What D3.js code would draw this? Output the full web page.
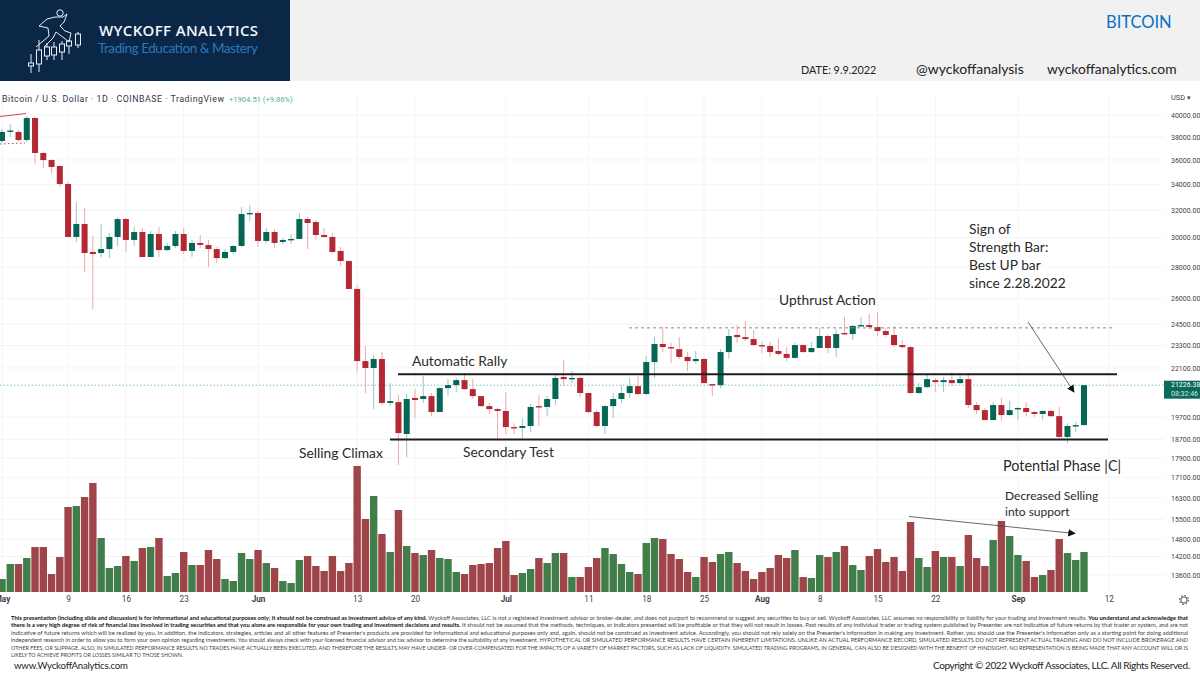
<!DOCTYPE html>
<html>
<head>
  <meta charset="utf-8">
  <script src="https://d3js.org/d3.v7.min.js"></script>
  <style>
    html, body { margin: 0; padding: 0; background: #fff; }
    svg { display: block; }
    text { font-family: Lato, sans-serif; }
    .tv text, text.tv { font-family: Roboto, sans-serif; }
    .note { fill: #2a2a2a; }
  </style>
</head>
<body>
<script>
// daily BTC/USD candles, 1 May - 9 Sep 2022
var firstDay = Date.UTC(2022, 4, 1);

var opens = [37630,38480,38440,37720,39720,36590,35990,35490,34020,30050,30980,29010,28940,29210,30050,31340,29840,30400,28670,30260,29140,29420,30260,29080,29630,29490,29210,28600,29010,29420,31710,
  31790,29770,30400,29700,29840,29910,31340,31120,30190,30050,29080,28400,26600,22460,22100,22570,20360,20400,18930,20600,20550,20690,19930,21080,21230,21480,21030,20690,20210,20070,
  19980,19240,19200,19290,20210,20170,20550,21640,21530,21590,20840,19930,19290,20210,20550,20840,21180,20790,22410,23380,23210,23100,22680,22460,22570,21280,21230,22940,23880,23760,23650,
  23320,23270,23000,22840,22630,23320,22940,23160,23820,23160,23990,23930,24390,24440,24330,24100,23880,23320,23210,20840,21130,21480,21380,21480,21330,21530,20260,20020,19560,20260,19790,
  20070,20120,19930,19840,19980,19740,18800,19290,19330];

var highs = [38710,39165,38620,39910,39810,36670,36080,35490,34180,32620,32160,30120,30980,30330,31490,31420,30760,30690,30470,30760,29630,30470,30690,29840,30190,29840,29350,29210,29490,32240,32390,
  31940,30690,30620,29980,30260,31790,31490,31270,30690,30330,29350,28470,26850,23270,22780,22940,21330,20740,20790,21030,21690,20840,21130,21530,21590,21840,21530,20690,20360,20120,
  20890,19420,19650,20310,20740,20690,21790,22520,21940,21640,20840,20020,20260,20840,21230,21590,21690,22730,23760,24330,23430,23760,22940,23000,22630,21310,23100,24210,24440,24670,24160,
  23490,23490,23650,23210,23430,23380,23490,24270,23930,24210,24910,24440,24910,25080,25200,24270,24390,23600,23270,21330,21740,21590,21640,21890,21740,21840,20400,20120,20400,20600,20450,
  20170,20400,19980,20020,20020,20170,19420,19470,21240];

var lows = [37460,37990,37550,37550,35660,35320,34830,33790,30050,29700,27680,25380,28670,28600,29420,29010,29420,28670,28670,28670,29080,29280,28870,28670,29280,28000,28270,28530,28870,29350,31200,
  29350,29630,29280,29560,29560,29910,29210,29840,29980,28940,28070,26600,21890,20840,20070,20260,20210,17600,17930,19650,20360,19740,19930,20690,20890,20990,20550,20170,19840,18620,
  18930,18930,18750,19020,19290,19740,20260,21180,21330,20640,19880,19240,18930,19650,20360,20600,20740,20740,21590,22940,22360,22570,21940,22310,21330,20690,21080,22570,23430,23540,23270,
  22890,22680,22730,22460,22570,22910,22890,23160,22890,22680,23880,23600,24330,24210,23820,23760,23210,23160,20790,20790,21080,20890,20890,21180,21300,20120,19840,19560,19540,19510,19770,
  19560,19740,19700,19560,19700,18750,18530,19020,19310];

var closes = [38440,38570,37720,39720,36590,35990,35410,34020,30050,30980,28940,28870,29210,30050,31340,29840,30400,28670,30260,29140,29420,30260,29080,29630,29490,29210,28600,29010,29420,31710,31790,
  29770,30400,29630,29840,29910,31340,31050,30190,30050,29010,28400,26600,22460,22100,22570,20360,20450,18970,20550,20500,20690,19930,21080,21230,21480,21030,20690,20210,20070,19980,
  19240,19200,19290,20170,20170,20550,21590,21530,21590,20840,19930,19290,20210,20550,20840,21180,20790,22410,23380,23210,23160,22680,22460,22570,21330,21230,22940,23820,23760,23650,23320,
  23270,22940,22840,22630,23320,22940,23160,23820,23160,23930,23930,24390,24440,24330,24100,23880,23320,23210,20840,21130,21530,21380,21480,21330,21530,20260,20020,19560,20260,19790,20020,
  20120,19930,19840,19980,19740,18800,19290,19330,21226.38];

// volume pane has no scale in the picture, so these are relative bar sizes
var volumes = [13,28,28,34,45,45,18,35,85,86,95,109,54,24,26,36,31,44,45,54,16,19,40,27,27,42,33,13,11,39,33,
  42,29,24,11,9,32,36,26,21,36,21,29,126,73,96,58,40,82,46,39,37,42,34,33,20,18,27,28,29,44,
  51,17,19,23,34,29,39,39,15,15,25,34,44,38,28,20,18,49,54,53,38,33,20,15,35,30,38,40,29,21,13,
  20,24,37,34,42,15,14,37,35,40,46,27,22,36,43,30,35,21,70,34,25,41,35,35,26,57,34,26,52,71,56,
  37,31,15,17,22,53,39,32,40];

var priceTicks = [40000,38000,36000,34000,32000,30000,28000,26000,24500,23300,22100,19700,18700,17900,17100,16300,15500,14800,14200,13600];
var dayTicks = ["May 1","May 9","May 16","May 23","Jun 1","Jun 13","Jun 20","Jul 1","Jul 11","Jul 18","Jul 25","Aug 1","Aug 8","Aug 15","Aug 22","Sep 1","Sep 12"];
var lastPrice = 21226.38;
var supportLevel = 18690, resistLevel = 21780, upthrustLevel = 24280;

var disclaimer = [
  [["This presentation (including slide and discussion) is for informational and educational purposes only; it should not be construed as investment advice of any kind.", 1],
   [" Wyckoff Associates, LLC is not a registered investment advisor or broker-dealer, and does not purport to recommend or suggest any securities to buy or sell. Wyckoff Associates, LLC assumes no responsibility or liability for your trading and investment results. ", 0],
   ["You understand and acknowledge that", 1]],
  [["there is a very high degree of risk of financial loss involved in trading securities and that you alone are responsible for your own trading and investment decisions and results.", 1],
   [" It should not be assumed that the methods, techniques, or indicators presented will be profitable or that they will not result in losses. Past results of any individual trader or trading system published by Presenter are not indicative of future returns by that trader or system, and are not", 0]],
  [["indicative of future returns which will be realized by you. In addition, the indicators, strategies, articles and all other features of Presenter's products are provided for informational and educational purposes only and, again, should not be construed as investment advice. Accordingly, you should not rely solely on the Presenter's information in making any investment. Rather, you should use the Presenter's information only as a starting point for doing additional", 0]],
  [["independent research in order to allow you to form your own opinion regarding investments. You should always check with your licensed financial advisor and tax advisor to determine the suitability of any investment. HYPOTHETICAL OR SIMULATED PERFORMANCE RESULTS HAVE CERTAIN INHERENT LIMITATIONS. UNLIKE AN ACTUAL PERFORMANCE RECORD, SIMULATED RESULTS DO NOT REPRESENT ACTUAL TRADING AND DO NOT INCLUDE BROKERAGE AND", 0]],
  [["OTHER FEES, OR SLIPPAGE. ALSO, IN SIMULATED PERFORMANCE RESULTS NO TRADES HAVE ACTUALLY BEEN EXECUTED, AND THEREFORE THE RESULTS MAY HAVE UNDER- OR OVER-COMPENSATED FOR THE IMPACTS OF A VARIETY OF MARKET FACTORS, SUCH AS LACK OF LIQUIDITY. SIMULATED TRADING PROGRAMS, IN GENERAL, CAN ALSO BE DESIGNED WITH THE BENEFIT OF HINDSIGHT. NO REPRESENTATION IS BEING MADE THAT ANY ACCOUNT WILL OR IS", 0]],
  [["LIKELY TO ACHIEVE PROFITS OR LOSSES SIMILAR TO THOSE SHOWN.", 0]]
];

var UP = "#056656", DOWN = "#b22833";
var dayMs = 86400000;

var candles = closes.map(function(c, i) {
  return { date: new Date(firstDay + i * dayMs), o: opens[i], h: highs[i], l: lows[i], c: c, v: volumes[i] };
});

function parseDay(s) {
  return new Date(Date.UTC(2022, ["Jan","Feb","Mar","Apr","May","Jun","Jul","Aug","Sep"].indexOf(s.slice(0, 3)), +s.slice(4)));
}

var svg = d3.select("body").append("svg").attr("width", 1200).attr("height", 675);
svg.append("defs").append("marker").attr("id", "head")
  .attr("viewBox", "0 0 10 10").attr("refX", 9).attr("refY", 5)
  .attr("markerWidth", 7.5).attr("markerHeight", 7.5).attr("markerUnits", "userSpaceOnUse").attr("orient", "auto")
  .append("path").attr("d", "M0,0L10,5L0,10Z").attr("fill", "#111");

var x = d3.scaleUtc().domain([new Date(firstDay), new Date(firstDay + 131 * dayMs)]).range([2, 1084]);
var y = d3.scaleLog().domain([40000, 13600]).range([115, 575]);
var yVol = d3.scaleLinear().domain([0, 126]).range([592, 466]);

/* grid */
var grid = svg.append("g").attr("stroke", "#f3f4f6").attr("stroke-width", 1);
grid.selectAll("line.h").data(priceTicks).enter().append("line")
  .attr("x1", 0).attr("x2", 1164)
  .attr("y1", function(d) { return y(d); }).attr("y2", function(d) { return y(d); });
grid.selectAll("line.v").data(dayTicks).enter().append("line")
  .attr("y1", 95).attr("y2", 592)
  .attr("x1", function(d) { return x(parseDay(d)); }).attr("x2", function(d) { return x(parseDay(d)); });

/* volume pane */
var candleW = 6, volW = 7.4;
svg.append("g").selectAll("rect").data(candles).enter().append("rect")
  .attr("x", function(d) { return x(d.date) - volW / 2; })
  .attr("width", volW)
  .attr("y", function(d) { return yVol(d.v); })
  .attr("height", function(d) { return yVol(0) - yVol(d.v); })
  .attr("fill", function(d) { return d.c >= d.o ? "#417e4a" : "#9f4549"; });

/* current price line */
svg.append("line").attr("x1", 0).attr("x2", 1164)
  .attr("y1", y(lastPrice)).attr("y2", y(lastPrice))
  .attr("stroke", "#7cc4b6").attr("stroke-dasharray", "1.5 2");

/* wicks then bodies */
svg.append("g").selectAll("line").data(candles).enter().append("line")
  .attr("x1", function(d) { return x(d.date); }).attr("x2", function(d) { return x(d.date); })
  .attr("y1", function(d) { return y(d.h); }).attr("y2", function(d) { return y(d.l); })
  .attr("stroke", function(d) { return d.c >= d.o ? "#93c8bd" : "#efa9ae"; }).attr("stroke-width", 1);

svg.append("g").selectAll("rect").data(candles).enter().append("rect")
  .attr("x", function(d) { return x(d.date) - candleW / 2; })
  .attr("width", candleW)
  .attr("y", function(d) { return y(Math.max(d.o, d.c)); })
  .attr("height", function(d) { return Math.max(1.4, Math.abs(y(d.o) - y(d.c))); })
  .attr("fill", function(d) { return d.c >= d.o ? UP : DOWN; });

/* right price axis */
var yAxis = d3.axisRight(y).tickValues(priceTicks).tickSize(0).tickPadding(0)
  .tickFormat(function(d) { return d3.format(".2f")(d); });
var yG = svg.append("g").attr("class", "tv").attr("transform", "translate(1171,0)").call(yAxis);
yG.select(".domain").remove();
yG.selectAll("text").attr("font-size", 7).attr("fill", "#3c3f48");

/* bottom time axis */
var xAxis = d3.axisBottom(x).tickValues(dayTicks.map(parseDay)).tickSize(0).tickPadding(0)
  .tickFormat(function(d) {
    return d.getUTCDate() === 1 ? d3.utcFormat("%b")(d) : d3.utcFormat("%-d")(d);
  });
var xG = svg.append("g").attr("class", "tv").attr("transform", "translate(0,596)").call(xAxis);
xG.select(".domain").remove();
xG.selectAll("text").attr("font-size", 8.2).attr("fill", "#3c3f48")
  .attr("font-weight", function(d) { return d.getUTCDate() === 1 ? 700 : 400; });

/* last price tag */
svg.append("rect").attr("x", 1164).attr("width", 36).attr("y", y(lastPrice) - 4.5).attr("height", 18).attr("fill", "#0b6a5b");
svg.append("text").attr("class", "tv").attr("x", 1171).attr("y", y(lastPrice) + 2).attr("font-size", 7).attr("fill", "#fff").text(d3.format(".2f")(lastPrice));
svg.append("text").attr("class", "tv").attr("x", 1171).attr("y", y(lastPrice) + 10.5).attr("font-size", 7).attr("fill", "#cfe6e1").text("08:32:46");

/* drawn levels and arrows */
function level(price, x1, x2, color, width, dash) {
  svg.append("line").attr("x1", x1).attr("x2", x2).attr("y1", y(price)).attr("y2", y(price))
    .attr("stroke", color).attr("stroke-width", width).attr("stroke-dasharray", dash || null);
}
level(resistLevel, 398, 1117, "#1d1d1d", 2);
level(supportLevel, 390, 1108, "#1d1d1d", 2);
level(upthrustLevel, 629, 1114, "#8a8a8a", 1, "3 3");

svg.append("line").attr("x1", 0).attr("y1", 116.5).attr("x2", 26).attr("y2", 113.5).attr("stroke", "#d9434f");
svg.append("line").attr("x1", 0).attr("y1", 144).attr("x2", 25).attr("y2", 143).attr("stroke", "#d9434f").attr("stroke-dasharray", "1.5 2.5");

svg.append("line").attr("x1", 1028).attr("y1", 322).attr("x2", 1074).attr("y2", 392)
  .attr("stroke", "#444").attr("stroke-width", 0.8).attr("marker-end", "url(#head)");
svg.append("line").attr("x1", 909).attr("y1", 516.5).attr("x2", 1075).attr("y2", 533.5)
  .attr("stroke", "#444").attr("stroke-width", 0.8).attr("marker-end", "url(#head)");

/* notes */
function note(t, px, py, size) {
  svg.append("text").attr("class", "note").attr("x", px).attr("y", py).attr("font-size", size || 13.8).text(t);
}
note("Automatic Rally", 412, 366);
note("Selling Climax", 299, 458);
note("Secondary Test", 463, 457);
note("Upthrust Action", 779, 305);
note("Sign of", 969, 234);
note("Strength Bar:", 969, 252);
note("Best UP bar", 969, 270);
note("since 2.28.2022", 969, 288);
note("Potential Phase |C|", 1003, 471, 14.4);
note("Decreased Selling", 1005, 500, 12);
note("into support", 1005, 516, 12);

/* TradingView legend */
var legend = svg.append("text").attr("class", "tv").attr("x", 2).attr("y", 102).attr("font-size", 8.8).attr("fill", "#33363f");
legend.text("Bitcoin / U.S. Dollar \u00b7 1D \u00b7 COINBASE \u00b7 TradingView").attr("textLength", 222);
svg.append("text").attr("class", "tv").attr("x", 229).attr("y", 102).attr("font-size", 7.6).attr("fill", "#4fae9f").text("+1904.51 (+9.86%)");
svg.append("text").attr("class", "tv").attr("x", 1171).attr("y", 100).attr("font-size", 7.4).attr("fill", "#3c3f48").text("USD \u25be");

/* settings gear */
var gear = svg.append("g").attr("transform", "translate(1184,600)").attr("fill", "none").attr("stroke", "#444");
gear.append("circle").attr("r", 3.2).attr("stroke-width", 1);
gear.append("circle").attr("r", 4.6).attr("stroke-width", 1).attr("stroke-dasharray", "1.6 2");

/* header */
svg.append("rect").attr("width", 1200).attr("height", 81).attr("fill", "#f1f1f1");
svg.append("rect").attr("width", 290).attr("height", 81).attr("fill", "#0a2748");

var logo = svg.append("g").attr("fill", "none").attr("stroke", "#e8edf2").attr("stroke-width", 1);
[[31,54,73,63,66],[39,40,72,50,64],[47,43,60,47,56],[54,42,60,47,55],[62,41,60,44,52],[69,40,54,41,46],[78,32,48,34,45]].forEach(function(c) {
  logo.append("line").attr("x1", c[0]).attr("x2", c[0]).attr("y1", c[1]).attr("y2", c[2]);
  logo.append("rect").attr("x", c[0] - 2.5).attr("width", 5).attr("y", c[3]).attr("height", c[4] - c[3]).attr("fill", "#0a2748");
});
logo.append("circle").attr("cx", 60).attr("cy", 13).attr("r", 3.2);
logo.append("path").attr("d", "M36,47 L49,36 L48,28 L39,26 L47,19 L55,17 L63,17 L67,14 L64,22 L60,26 L65,31 L71,33 L69,42 L64,38 L56,32 L53,38 L44,47");

svg.append("text").attr("x", 99).attr("y", 36).style("font-family", "Open Sans")
  .attr("font-size", 15).attr("font-weight", 600).attr("fill", "#f4f6f8").text("WYCKOFF ANALYTICS").attr("textLength", 159);
svg.append("text").attr("x", 98).attr("y", 53).attr("font-size", 13.6).attr("fill", "#2a78b8").text("Trading Education & Mastery").attr("textLength", 160);

svg.append("text").attr("x", 1106).attr("y", 28).attr("font-size", 16.5).attr("fill", "#0a70c0").text("BITCOIN");
svg.append("text").attr("x", 801).attr("y", 74).attr("font-size", 10.8).attr("fill", "#222").text("DATE: 9.9.2022");
svg.append("text").attr("x", 916).attr("y", 74).attr("font-size", 14).attr("fill", "#222").text("@wyckoffanalysis");
svg.append("text").attr("x", 1047).attr("y", 74).attr("font-size", 13.8).attr("fill", "#222").text("wyckoffanalytics.com");

/* disclaimer and footer */
var lineY = [620, 627, 634.5, 641.5, 649.5, 657];
disclaimer.forEach(function(parts, i) {
  var t = svg.append("text").attr("x", 11).attr("y", lineY[i]).attr("font-size", 5.4).attr("fill", "#333")
    .attr("textLength", i < 5 ? 1177 : 172).attr("lengthAdjust", "spacingAndGlyphs");
  parts.forEach(function(p) {
    t.append("tspan").attr("font-weight", p[1] ? 700 : 400).attr("fill", p[1] ? "#111" : "#444").text(p[0]);
  });
});
svg.append("text").attr("x", 14).attr("y", 669).attr("font-size", 9.6).attr("fill", "#222").text("www.WyckoffAnalytics.com").attr("textLength", 114);
svg.append("text").attr("x", 933).attr("y", 669).attr("font-size", 10).attr("fill", "#222").text("Copyright \u00a9 2022 Wyckoff Associates, LLC. All Rights Reserved.").attr("textLength", 257);
</script>
</body>
</html>
